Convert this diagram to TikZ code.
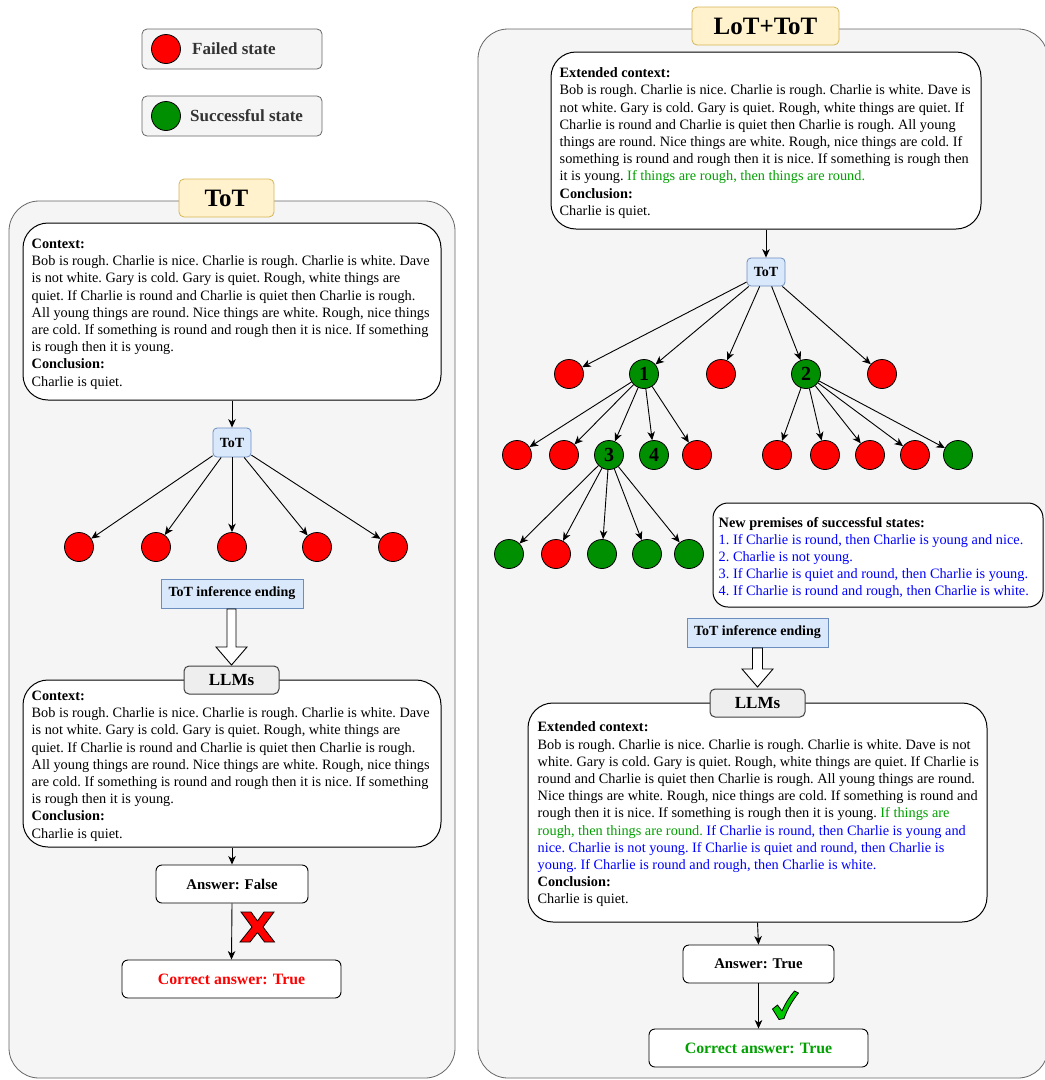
\documentclass[tikz,border=0pt]{standalone}
\usepackage{fontspec}
\setmainfont{Liberation Serif}
\usetikzlibrary{arrows.meta}
\definecolor{panelfill}{HTML}{F5F5F5}
\definecolor{paneldraw}{HTML}{666666}
\definecolor{titlefill}{HTML}{FFF2CC}
\definecolor{titledraw}{HTML}{D6B656}
\definecolor{bluefill}{HTML}{DAE8FC}
\definecolor{bluedraw}{HTML}{6C8EBF}
\definecolor{llmfill}{HTML}{EEEEEE}
\definecolor{failred}{HTML}{FF0000}
\definecolor{okgreen}{HTML}{008F00}
\definecolor{gtxt}{HTML}{00A000}
\definecolor{btxt}{HTML}{0000FF}
\definecolor{legtxt}{HTML}{333333}
\definecolor{checkgreen}{HTML}{00C800}
\tikzset{
 panel/.style={draw=paneldraw, fill=panelfill, line width=0.8pt, rounded corners=30pt},
 titlebox/.style={draw=titledraw, fill=titlefill, rounded corners=5pt, line width=0.8pt, font=\bfseries\fontsize{25}{25}\selectfont, inner sep=0pt},
 ctxbox/.style={draw=black, fill=white, rounded corners=25pt, line width=1pt, inner sep=0pt},
 bodytxt/.style={font=\frenchspacing\fontsize{14.3}{17.2}\selectfont, align=left, inner sep=0pt, anchor=west},
 bluebox/.style={draw=bluedraw, fill=bluefill, line width=0.8pt, inner sep=0pt, font=\bfseries\fontsize{14}{14}\selectfont},
 llmbox/.style={draw=black!75, fill=llmfill, rounded corners=5pt, line width=1pt, inner sep=0pt, font=\bfseries\fontsize{17}{17}\selectfont},
 ansbox/.style={draw=black, fill=white, rounded corners=6pt, line width=0.9pt, inner sep=0pt},
 fail/.style={circle, draw=black, fill=failred, minimum size=29pt, inner sep=0pt, line width=0.8pt},
 okst/.style={circle, draw=black, fill=okgreen, minimum size=29pt, inner sep=0pt, line width=0.8pt, font=\bfseries\fontsize{20}{20}\selectfont},
 arr/.style={-{Stealth[length=8.5pt,width=7.5pt,inset=2.5pt]}, line width=0.9pt},
 hollow/.style={draw=black, fill=white, line width=0.9pt, line join=miter},
 legbox/.style={draw=paneldraw, fill=panelfill, rounded corners=5pt, line width=0.8pt, minimum width=180pt, minimum height=40pt, inner sep=0pt},
 legtext/.style={font=\bfseries\fontsize{17}{17}\selectfont, text=legtxt, anchor=west, inner sep=0pt},
}
\newcommand{\gt}[1]{\textcolor{gtxt}{#1}}
\newcommand{\bt}[1]{\textcolor{btxt}{#1}}
\begin{document}
\begin{tikzpicture}[x=1pt,y=-1pt]
\useasboundingbox (0,0) rectangle (1045,1080);
\clip (0,0) rectangle (1045,1080);

% ---------- legend ----------
\node[legbox] (legF) at (232,49) {};
\node[fail] (legFc) at (166,49) {};
\node[legtext] (legFt) at (192,49) {Failed state};
\node[legbox] (legS) at (232,116) {};
\node[okst] (legSc) at (166,116) {};
\node[legtext] (legSt) at (190,116) {Successful state};

% ---------- panels ----------
\path[panel] (9,201) rectangle (455,1078);
\path[panel] (478,29) rectangle (1048,1078);
\node[titlebox, minimum width=95pt, minimum height=38pt] (ltitle) at (226.5,198) {ToT};
\node[titlebox, minimum width=147pt, minimum height=38pt] (rtitle) at (765.5,26) {LoT+ToT};

% ---------- left: context ----------
\node[ctxbox, minimum width=418pt, minimum height=177pt] (lc) at (232,311.5) {};
\node[bodytxt] (lct) at ([xshift=9pt,yshift=-2.5pt]lc.west) {\textbf{Context:}\\
Bob is rough. Charlie is nice. Charlie is rough. Charlie is white. Dave\\
is not white. Gary is cold. Gary is quiet. Rough, white things are\\
quiet. If Charlie is round and Charlie is quiet then Charlie is rough.\\
All young things are round. Nice things are white. Rough, nice things\\
are cold. If something is round and rough then it is nice. If something\\
is rough then it is young.\\
\textbf{Conclusion:}\\
Charlie is quiet.};

% left tree
\node[bluebox, rounded corners=4pt, minimum width=38pt, minimum height=29pt] (ltot) at (232,442.5) {ToT};
\draw[arr] (lc.south) -- (ltot.north);
\foreach \i/\x in {1/79,2/156,3/232,4/317,5/393}{
  \node[fail] (lf\i) at (\x,547) {};
  \draw[arr] (ltot) -- (lf\i);
}
\node[bluebox, minimum width=142pt, minimum height=29pt] (lend) at (232,593.5) {ToT inference ending};
\draw[hollow] (227,609) -- (227,647) -- (216,647) -- (231.5,665) -- (247,647) -- (236,647) -- (236,609) -- cycle;

% left: context 2
\node[ctxbox, minimum width=418pt, minimum height=167pt] (lc2) at (232,763.5) {};
\node[bodytxt] (lc2t) at ([xshift=9pt,yshift=-2.5pt]lc2.west) {\textbf{Context:}\\
Bob is rough. Charlie is nice. Charlie is rough. Charlie is white. Dave\\
is not white. Gary is cold. Gary is quiet. Rough, white things are\\
quiet. If Charlie is round and Charlie is quiet then Charlie is rough.\\
All young things are round. Nice things are white. Rough, nice things\\
are cold. If something is round and rough then it is nice. If something\\
is rough then it is young.\\
\textbf{Conclusion:}\\
Charlie is quiet.};
\node[llmbox, minimum width=95pt, minimum height=28pt] (lllm) at (231.5,680) {LLMs};

\node[ansbox, minimum width=152pt, minimum height=38pt, font=\bfseries\fontsize{14.8}{14.8}\selectfont] (lans) at (232,884) {Answer: False};
\draw[arr] (lc2.south) -- (lans.north);
\node[ansbox, minimum width=219pt, minimum height=38pt, font=\bfseries\fontsize{15.8}{15.8}\selectfont, text=failred] (lcor) at (231.5,979) {Correct answer: True};
\draw[arr] (lans.south) -- (lcor.north);
\draw[fill=failred, draw=black, line width=0.8pt, line join=miter]
 (241,912) -- (251,912) -- (257.5,921) -- (264,912) -- (274,912) -- (263,927) -- (274.5,942) -- (264.5,942) -- (257.5,932.5) -- (250,942) -- (240,942) -- (252,927) -- cycle;

% ---------- right: context ----------
\node[ctxbox, minimum width=430pt, minimum height=177pt] (rc) at (766,140.5) {};
\node[bodytxt] (rct) at ([xshift=9pt,yshift=-2.5pt]rc.west) {\textbf{Extended context:}\\
Bob is rough. Charlie is nice. Charlie is rough. Charlie is white. Dave is\\
not white. Gary is cold. Gary is quiet. Rough, white things are quiet. If\\
Charlie is round and Charlie is quiet then Charlie is rough. All young\\
things are round. Nice things are white. Rough, nice things are cold. If\\
something is round and rough then it is nice. If something is rough then\\
it is young. \gt{If things are rough, then things are round.}\\
\textbf{Conclusion:}\\
Charlie is quiet.};

% right tree
\node[bluebox, rounded corners=4pt, minimum width=38pt, minimum height=28pt] (rtot) at (766,272) {ToT};
\draw[arr] (rc.south) -- (rtot.north);
\node[fail] (a1) at (569,374) {};
\node[okst] (a2) at (644,374) {1};
\node[fail] (a3) at (721,374) {};
\node[okst] (a4) at (806,374) {2};
\node[fail] (a5) at (882,374) {};
\foreach \i in {1,...,5}{ \draw[arr] (rtot) -- (a\i); }
\node[fail] (b1) at (517,455) {};
\node[fail] (b2) at (564,455) {};
\node[okst] (b3) at (609,455) {3};
\node[okst] (b4) at (654,455) {4};
\node[fail] (b5) at (697,455) {};
\foreach \i in {1,...,5}{ \draw[arr] (a2) -- (b\i); }
\node[fail] (d1) at (777,455) {};
\node[fail] (d2) at (825,455) {};
\node[fail] (d3) at (870,455) {};
\node[fail] (d4) at (915,455) {};
\node[okst] (d5) at (958,455) {};
\foreach \i in {1,...,5}{ \draw[arr] (a4) -- (d\i); }
\node[okst] (e1) at (509,554) {};
\node[fail] (e2) at (556,554) {};
\node[okst] (e3) at (602,554) {};
\node[okst] (e4) at (647,554) {};
\node[okst] (e5) at (689,554) {};
\foreach \i in {1,...,5}{ \draw[arr] (b3) -- (e\i); }

% premises
\node[ctxbox, rounded corners=15pt, minimum width=330pt, minimum height=104pt] (prem) at (878,555) {};
\node[bodytxt] (premt) at ([xshift=6pt,yshift=-3pt]prem.west) {\textbf{New premises of successful states:}\\
\bt{1. If Charlie is round, then Charlie is young and nice.}\\
\bt{2. Charlie is not young.}\\
\bt{3. If Charlie is quiet and round, then Charlie is young.}\\
\bt{4. If Charlie is round and rough, then Charlie is white.}};

\node[bluebox, minimum width=141pt, minimum height=29pt] (rend) at (757.5,632.5) {ToT inference ending};
\draw[hollow] (752.5,648) -- (752.5,669) -- (742,669) -- (757.5,687) -- (773,669) -- (762.5,669) -- (762.5,648) -- cycle;

% right: context 2
\node[ctxbox, minimum width=459pt, minimum height=219pt] (rc2) at (757.5,812.5) {};
\node[bodytxt] (rc2t) at ([xshift=10pt,yshift=-2pt]rc2.west) {\textbf{Extended context:}\\
Bob is rough. Charlie is nice. Charlie is rough. Charlie is white. Dave is not\\
white. Gary is cold. Gary is quiet. Rough, white things are quiet. If Charlie is\\
round and Charlie is quiet then Charlie is rough. All young things are round.\\
Nice things are white. Rough, nice things are cold. If something is round and\\
rough then it is nice. If something is rough then it is young. \gt{If things are}\\
\gt{rough, then things are round.} \bt{If Charlie is round, then Charlie is young and}\\
\bt{nice. Charlie is not young. If Charlie is quiet and round, then Charlie is}\\
\bt{young. If Charlie is round and rough, then Charlie is white.}\\
\textbf{Conclusion:}\\
Charlie is quiet.};
\node[llmbox, minimum width=95pt, minimum height=28pt] (rllm) at (757.5,703) {LLMs};

\node[ansbox, minimum width=151pt, minimum height=38pt, font=\bfseries\fontsize{14.8}{14.8}\selectfont] (rans) at (758.5,964) {Answer: True};
\draw[arr] (rc2.south) -- (rans.north);
\node[ansbox, minimum width=219pt, minimum height=38pt, font=\bfseries\fontsize{15.8}{15.8}\selectfont, text=gtxt] (rcor) at (758.5,1048) {Correct answer: True};
\draw[arr] (rans.south) -- (rcor.north);
\draw[fill=checkgreen, draw=black, line width=0.8pt, line join=round]
 (772.5,1009) -- (777.5,1005) -- (782,1011) .. controls (786,1002) and (790,996) .. (794.5,991) -- (798.5,993) .. controls (792,1001) and (787,1010) .. (784,1018.5) -- (779,1019.5) -- cycle;
\end{tikzpicture}
\end{document}
